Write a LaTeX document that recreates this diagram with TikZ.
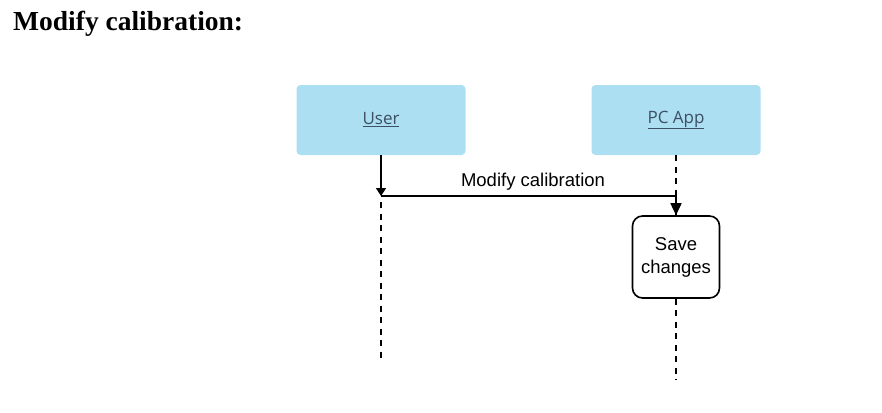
\documentclass[tikz,border=0pt]{standalone}
\usepackage{fontspec}
\setmainfont{Liberation Serif}
\newfontfamily\arialfont{Liberation Sans}
\newfontfamily\osfont{Open Sans}
\usetikzlibrary{arrows.meta}
\definecolor{boxblue}{HTML}{ADDFF3}
\definecolor{labelgray}{HTML}{3D4F63}
\tikzset{
  actor/.style={fill=boxblue, rounded corners=4pt, minimum width=169pt, minimum height=70pt,
    inner sep=0pt, text=labelgray, font=\osfont\fontsize{17}{20}\selectfont},
  activity/.style={draw=black, line width=1.6pt, rounded corners=10pt, fill=white,
    minimum width=87pt, minimum height=82pt, inner sep=0pt, align=center,
    font=\arialfont\fontsize{18.5}{23}\selectfont},
  lifeline/.style={line width=1.8pt, dash pattern=on 6pt off 5.5pt},
  msg/.style={line width=1.6pt, -{Triangle[length=12pt,width=11pt]}},
  msglabel/.style={font=\arialfont\fontsize{18.5}{22}\selectfont},
}
\begin{document}
\begin{tikzpicture}[x=1pt,y=-1pt]
\useasboundingbox (0,0) rectangle (882,412);
\node[anchor=base west, font=\bfseries\fontsize{27.5}{32}\selectfont, inner sep=0pt] (title) at (13,31) {Modify calibration:};
\node[actor] (user) at (381,120) {\underline{User}};
\node[actor] (pcapp) at (676,120) {\underline{PC App}};
\node[activity] (save) at (676,257) {Save\\changes};
\coordinate (uact) at (381,196);
\coordinate (uend) at (381,359);
\coordinate (pend) at (676,380);
% user lifeline
\draw[line width=1.6pt, -{Triangle[length=8pt,width=10pt]}] (user.south) -- (uact);
\draw[lifeline] (uact) ++(0,6) -- (uend);
% pc app lifeline
\draw[lifeline] (pcapp.south) -- (save.north);
\draw[lifeline] (save.south) -- (pend);
% message
\draw[msg] (uact) -| (save.north);
\node[msglabel, anchor=base] (mlabel) at (533,186) {Modify calibration};
\end{tikzpicture}
\end{document}
